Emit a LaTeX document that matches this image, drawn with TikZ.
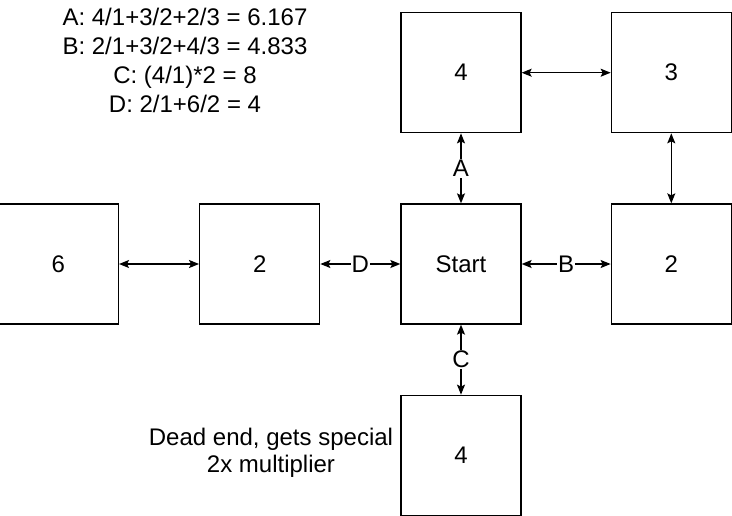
\documentclass[tikz,border=0pt]{standalone}
\usepackage{fontspec}
\setmainfont{Liberation Sans}
\usetikzlibrary{positioning,arrows.meta}
\begin{document}
\begin{tikzpicture}[x=1pt,y=-1pt,
    room/.style={draw, line width=1.3pt, minimum size=120pt, inner sep=0pt},
    every node/.style={font=\fontsize{24}{29}\selectfont},
    link/.style={{Stealth[length=10pt,width=8pt,inset=2pt]}-{Stealth[length=10pt,width=8pt,inset=2pt]}, line width=1.4pt},
    node distance=90pt and 90pt]
   \useasboundingbox (0,0) rectangle (732,515);
   \node[room] (Start) at (461,264) {Start};
   \node[room] (Up) [above=70pt of Start] {4};
   \node[room] (Three) [right=89pt of Up] {3};
   \node[room] (Right) [right=89pt of Start] {2};
   \node[room] (Left) [left=80pt of Start] {2};
   \node[room] (Six) [left=80pt of Left] {6};
   \node[room] (Down) [below=70pt of Start] {4};

   \node[align=center] (sums) at (185,60)
     {A: 4/1+3/2+2/3 = 6.167\\B: 2/1+3/2+4/3 = 4.833\\C: (4/1)*2 = 8\\D: 2/1+6/2 = 4};
   \node[align=center, font=\fontsize{24}{27}\selectfont] (note) at (271,453)
     {Dead end, gets special\\2x multiplier};

   \path[link]
     (Start) edge node[fill=white, inner sep=1pt] {A} (Up)
     (Start) edge node[fill=white, inner sep=1pt] {B} (Right)
     (Start) edge node[fill=white, inner sep=1pt] {C} (Down)
     (Start) edge node[fill=white, inner sep=1pt] {D} (Left)
     (Up) edge (Three)
     (Three) edge (Right)
     (Left) edge (Six);
  \end{tikzpicture}
\end{document}
